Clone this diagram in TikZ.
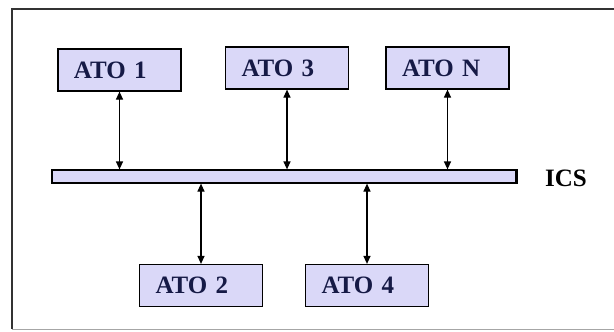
\documentclass[tikz,border=0pt]{standalone}
\usepackage{fontspec}
\setmainfont{Liberation Serif}
\usetikzlibrary{arrows.meta}
\definecolor{lav}{RGB}{218,216,248}
\definecolor{navy}{RGB}{22,26,70}
\begin{document}
\begin{tikzpicture}[x=1pt,y=-1pt,
  atobox/.style={draw=black,line width=1.2pt,fill=lav,minimum height=42pt,inner ysep=0pt,inner xsep=16pt,
    text width=91pt,align=left,
    font=\fontsize{25}{25}\selectfont\bfseries,text=navy},
  link/.style={line width=1.2pt,{Triangle[length=8pt,width=7pt]}-{Triangle[length=8pt,width=7pt]}}]
\useasboundingbox (0,0) rectangle (614,332);
\fill[white] (0,0) rectangle (614,332);
% frame
\draw[line width=1.4pt,black!80] (616,9) -- (12,9) -- (12,329);
\draw[line width=1pt,black!35] (12,329) -- (616,329);
% nodes
\node[atobox] (ato1) at (119.5,70) {ATO 1};
\node[atobox] (ato3) at (287,68) {ATO 3};
\node[atobox] (aton) at (447.5,68) {ATO N};
\node[atobox] (ato2) at (201,285.5) {ATO 2};
\node[atobox] (ato4) at (367,285.5) {ATO 4};
\node[draw=black,line width=1.2pt,fill=lav,minimum width=464pt,minimum height=13pt,inner sep=0pt] (bus) at (284,176.5) {};
\draw[line width=2.5pt] (bus.north east) -- (bus.south east);
\node[font=\fontsize{25}{25}\selectfont\bfseries,text=black,anchor=west,inner sep=0pt] (ics) at (545,178) {ICS};
% links
\draw[link] (ato1.south) -- (ato1.south |- bus.north);
\draw[link] (ato3.south) -- (ato3.south |- bus.north);
\draw[link] (aton.south) -- (aton.south |- bus.north);
\draw[link] (ato2.north) -- (ato2.north |- bus.south);
\draw[link] (ato4.north) -- (ato4.north |- bus.south);
\end{tikzpicture}
\end{document}
